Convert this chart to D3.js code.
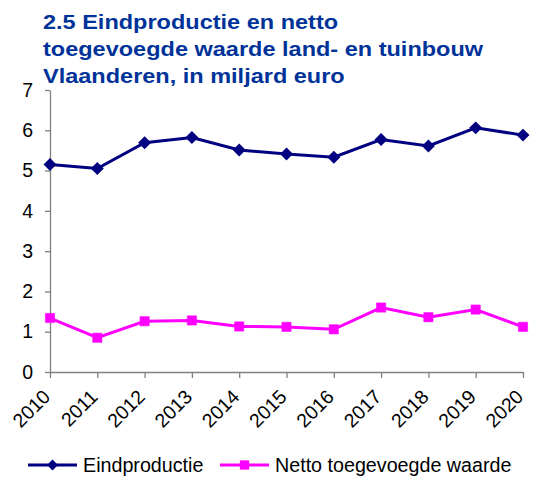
<!DOCTYPE html>
<html lang="nl">
<head>
<meta charset="UTF-8">
<title>Eindproductie en netto toegevoegde waarde</title>
<script src="https://cdn.jsdelivr.net/npm/d3@7.9.0/dist/d3.min.js"></script>
<style>
    body { margin: 0; background: #fff; font-family: "Liberation Sans", Arial, sans-serif; }
    .title { fill: #003399; font-weight: bold; font-size: 21px; font-family: "Liberation Sans", Arial, sans-serif; }
    .axis text { font-size: 19.5px; fill: #000; font-family: "Liberation Sans", Arial, sans-serif; }
    .axis path, .axis line { stroke: #808080; stroke-width: 1.3; }
    .legend text { font-size: 19.7px; fill: #000; font-family: "Liberation Sans", Arial, sans-serif; }
</style>
</head>
<body>
<svg id="chart" width="552" height="477"></svg>
<script>
// data
const years = ["2010", "2011", "2012", "2013", "2014", "2015", "2016", "2017", "2018", "2019", "2020"];
const eindproductie = [5.15, 5.05, 5.69, 5.82, 5.51, 5.41, 5.33, 5.77, 5.61, 6.06, 5.88];
const nettoWaarde = [1.34, 0.85, 1.26, 1.28, 1.13, 1.12, 1.06, 1.60, 1.36, 1.55, 1.12];
const yTicks = [0, 1, 2, 3, 4, 5, 6, 7];
const titleLines = ["2.5 Eindproductie en netto", "toegevoegde waarde land- en tuinbouw", "Vlaanderen, in miljard euro"];

const series = [
    { name: "Eindproductie", values: eindproductie, color: "#000080", marker: "diamond" },
    { name: "Netto toegevoegde waarde", values: nettoWaarde, color: "#ff00ff", marker: "square" }
];

const svg = d3.select('#chart');
const plotLeft = 50, plotRight = 523, plotTop = 90, plotBottom = 372;

let x = d3.scalePoint().domain(years).range([plotLeft, plotRight]);
let y = d3.scaleLinear().domain([0, 7]).range([plotBottom, plotTop]);

// title (the original is a bit stretched horizontally)
const titleStretch = 1.12;
svg.append('text')
    .attr('class', 'title')
    .attr('transform', `scale(${titleStretch},1)`)
    .selectAll('tspan')
    .data(titleLines)
    .enter()
    .append('tspan')
    .attr('x', 43 / titleStretch)
    .attr('y', (d, i) => 29 + i * 27)
    .text(d => d);

// y axis
let yAxis = svg.append('g')
    .attr('class', 'axis')
    .attr('transform', `translate(${plotLeft},0)`)
    .call(d3.axisLeft(y).tickValues(yTicks).tickFormat(d3.format('d'))
        .tickSize(5).tickSizeOuter(0).tickPadding(12));

// x axis
let xAxis = svg.append('g')
    .attr('class', 'axis')
    .attr('transform', `translate(0,${plotBottom})`)
    .call(d3.axisBottom(x).tickSize(6).tickSizeOuter(0));
xAxis.select('.domain').attr('d', `M${plotLeft},0.5H${plotRight}`);
xAxis.selectAll('text')
    .attr('text-anchor', 'end')
    .attr('dy', null)
    .attr('y', 0)
    .attr('transform', 'translate(1,26) rotate(-45)');

let line = d3.line()
    .x((d, i) => x(years[i]))
    .y(d => y(d));

const diamond = d3.symbol().type(d3.symbolDiamond2).size(75);
const square = d3.symbol().type(d3.symbolSquare2).size(110);

series.forEach(s => {
    svg.append('path')
        .datum(s.values)
        .attr('fill', 'none')
        .attr('stroke', s.color)
        .attr('stroke-width', 3)
        .attr('d', line);

    svg.selectAll(null)
        .data(s.values)
        .enter()
        .append('path')
        .attr('d', s.marker === 'diamond' ? diamond : square)
        .attr('fill', s.color)
        .attr('stroke', s.color)
        .attr('stroke-width', s.marker === 'diamond' ? 1.5 : 0.5)
        .attr('transform', (d, i) => `translate(${x(years[i])},${y(d)})`);
});

// legend
const legendX = [28, 220];
let legend = svg.append('g').attr('class', 'legend');
series.forEach((s, i) => {
    let g = legend.append('g').attr('transform', `translate(${legendX[i]},465)`);
    g.append('line')
        .attr('x1', 0).attr('x2', 49)
        .attr('stroke', s.color).attr('stroke-width', 3);
    g.append('path')
        .attr('d', s.marker === 'diamond' ? diamond : square)
        .attr('fill', s.color)
        .attr('transform', 'translate(24.5,0)');
    g.append('text')
        .attr('x', 55)
        .attr('y', 7)
        .text(s.name);
});
</script>
</body>
</html>
